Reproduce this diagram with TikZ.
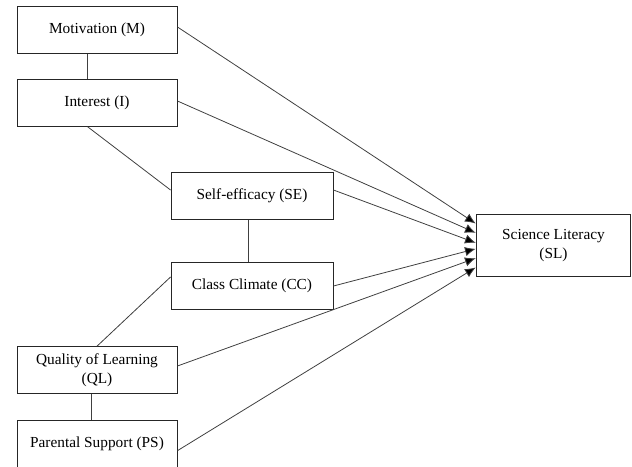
\documentclass[tikz,border=0pt]{standalone}
\usepackage{fontspec}
\setmainfont{Liberation Serif}
\usepackage{tikz}
\usetikzlibrary{arrows.meta,shapes,positioning}

\tikzset{
    varbox/.style={draw=black!85, line width=0.7pt, rectangle, align=center,
        minimum width=120pt, minimum height=35pt, inner sep=2pt,
        font=\fontsize{11.5}{14}\selectfont},
    link/.style={draw=black!75, line width=0.6pt},
    path/.style={link, -{Latex[length=8pt,width=7pt,fill=black]}}
}

\begin{document}
\begin{tikzpicture}[x=0.75pt, y=-0.75pt]
        \useasboundingbox (0,0) rectangle (632,467);

        \node[varbox] (M) at (97,30) {Motivation (M)};
        \node[varbox] (I) at (97,103) {Interest (I)};
        \node[varbox, minimum width=121.5pt] (SE) at (252,196) {Self-efficacy (SE)};
        \node[varbox, minimum width=121.5pt] (CC) at (252,286) {Class Climate (CC)};
        \node[varbox] (QL) at (97,370) {Quality of Learning\\(QL)};
        \node[varbox] (PS) at (97,444) {Parental Support (PS)};
        \node[varbox, minimum width=116pt, minimum height=47pt] (SL) at (553.5,245.5) {Science Literacy\\(SL)};

        % correlations
        \draw[link] ([xshift=-7.5pt]M.south) -- ([xshift=-7.5pt]I.north);
        \draw[link] ([xshift=-7pt]I.south) -- ([yshift=4.5pt]SE.west);
        \draw[link] ([xshift=-3pt]SE.south) -- ([xshift=-3pt]CC.north);
        \draw[link] ([yshift=6.75pt]CC.west) -- (QL.north);
        \draw[link] ([xshift=-4.5pt]QL.south) -- ([xshift=-4.5pt]PS.north);

        % paths to SL
        \draw[path] ([yshift=2.25pt]M.east) -- ([yshift=16.5pt]SL.west);
        \draw[path] ([yshift=1.5pt]I.east) -- ([yshift=9.5pt]SL.west);
        \draw[path] ([yshift=4.5pt]SE.east) -- ([yshift=2pt]SL.west);
        \draw[path] (CC.east) -- ([yshift=-2.5pt]SL.west);
        \draw[path] ([yshift=3pt]QL.east) -- ([yshift=-9.5pt]SL.west);
        \draw[path] ([yshift=-5pt]PS.east) -- ([yshift=-16.5pt]SL.west);

    \end{tikzpicture}
\end{document}
